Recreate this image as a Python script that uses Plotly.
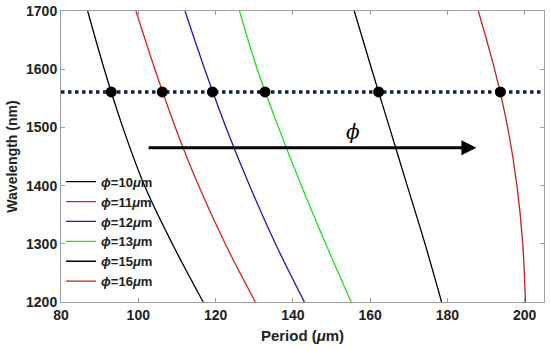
import plotly.graph_objects as go

wavelength = [1700, 1600, 1500, 1400, 1300, 1200]
period_10 = [86.9, 91.2, 96.0, 101.6, 108.8, 116.8]
period_11 = [99.4, 104.3, 109.6, 115.6, 122.5, 130.3]
period_12 = [112.1, 117.2, 122.7, 128.8, 135.5, 143.0]
period_13 = [126.2, 130.8, 136.3, 142.2, 148.5, 155.1]
period_15 = [155.9, 160.4, 165.0, 169.6, 174.2, 178.5]
period_16 = [188.0, 192.2, 195.6, 198.0, 199.5, 200.2]

labels = ["10", "11", "12", "13", "15", "16"]
colors = ["#000000", "#d62020", "#1a1ab0", "#22dd22", "#000000", "#c02020"]
series = [period_10, period_11, period_12, period_13, period_15, period_16]

res_wavelength = 1561
res_periods = [93.0, 106.2, 119.2, 132.8, 162.2, 193.7]

x_ticks = [80, 100, 120, 140, 160, 180, 200]
y_ticks = [1200, 1300, 1400, 1500, 1600, 1700]

fig = go.Figure()

fig.add_trace(go.Scatter(
    x=[80, 205], y=[res_wavelength, res_wavelength], mode="lines",
    line=dict(color="#0d1f4d", width=3.5, dash="dot"), showlegend=False))

for lab, col, per in zip(labels, colors, series):
    fig.add_trace(go.Scatter(
        x=per, y=wavelength, mode="lines", line=dict(color=col, width=1.3, shape="spline"),
        name="<i>ϕ</i>=" + lab + "<i>μ</i>m"))

fig.add_trace(go.Scatter(
    x=res_periods, y=[res_wavelength] * len(res_periods), mode="markers",
    marker=dict(color="black", size=11), showlegend=False))

fig.add_annotation(x=187.5, y=1465, ax=102.3, ay=1465, xref="x", yref="y", axref="x", ayref="y",
                   showarrow=True, arrowhead=2, arrowsize=1.0, arrowwidth=3, arrowcolor="black", text="")
fig.add_annotation(x=155.6, y=1492, xref="x", yref="y", text="<i>ϕ</i>", showarrow=False,
                   font=dict(family="DejaVu Serif", size=20, color="black"))

axis_common = dict(showline=True, linecolor="#a0a0a0", linewidth=1, mirror="ticks",
                   ticks="inside", ticklen=4, tickcolor="#a0a0a0", showgrid=False, zeroline=False,
                   automargin=False,
                   tickfont=dict(family="Arial", size=14, color="#222", weight="bold"))

fig.update_layout(
    width=550, height=349, margin=dict(l=61, r=6, t=11, b=47),
    plot_bgcolor="white", paper_bgcolor="white",
    font=dict(family="Arial", color="#222"),
    xaxis=dict(range=[80, 205], tickvals=x_ticks,
               title=dict(text="Period (<i>μ</i>m)", font=dict(size=15, weight="bold"), standoff=8),
               **axis_common),
    yaxis=dict(range=[1200, 1700], tickvals=y_ticks,
               title=dict(text="Wavelength (nm)", font=dict(size=14, weight="bold"), standoff=5),
               **axis_common),
    legend=dict(x=0.0, y=0.465, xanchor="left", yanchor="top", bgcolor="rgba(0,0,0,0)",
                font=dict(family="Arial", size=13, color="#222", weight="bold"), tracegroupgap=0,
                itemwidth=30),
)

fig.write_html("out.html", config={"displayModeBar": False},
               post_script="document.body.style.margin='0';document.body.style.overflow='hidden';")
